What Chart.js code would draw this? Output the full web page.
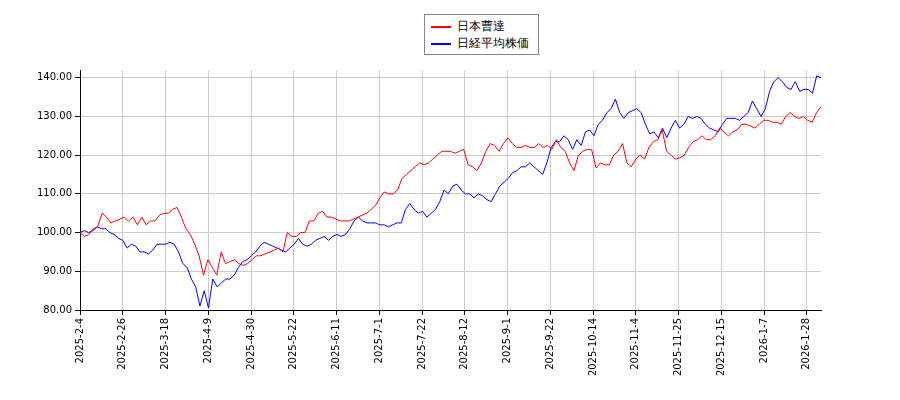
<!DOCTYPE html>
<html><head><meta charset="utf-8">
<script src="https://cdn.jsdelivr.net/npm/chart.js@4"></script>
<style>
body{margin:0;background:#fff;font-family:"DejaVu Sans",sans-serif}
#wrap{position:relative;width:900px;height:400px}
#legend{position:absolute;left:424px;top:14px;width:115px;height:41px;border:1px solid #888;background:#fff;font-size:12px;box-sizing:border-box;padding:3px 6px}
#legend div{height:17px;line-height:17px;white-space:nowrap}
#legend span{display:inline-block;width:20px;height:2px;vertical-align:middle;margin-right:6px}
</style></head><body>
<div id="wrap"><canvas id="c" width="900" height="400"></canvas>
<div id="legend"><div><span style="background:#f00"></span>日本曹達</div><div><span style="background:#00f"></span>日経平均株価</div></div></div>
<script>
const tickLabels=["2025-2-4","2025-2-26","2025-3-18","2025-4-9","2025-4-30","2025-5-22","2025-6-11","2025-7-1","2025-7-22","2025-8-12","2025-9-1","2025-9-22","2025-10-14","2025-11-4","2025-11-25","2025-12-15","2026-1-7","2026-1-28"];
const lastIndex=260;
const nisso=[100,99,99.5,101,101.5,105,104,102.5,103,103.5,104,103,104,102,104,102,103,103,104.5,105,105,106,106.5,104,101,99.5,97,94,89,93,91,89,95,92,92.5,93,92,91.5,92,93,94,94,94.5,95,95.5,96,95,100,99,99,100,100,103,103,105,105.5,104,104,103.5,103,103,103,103.5,104,104.5,105,106,107,109,110.5,110,110,111,114,115,116,117,118,117.5,118,119,120,121,121,121,120.5,121,121.5,117.5,117,116,118,121,123,122.5,121,123,124.5,123,122,122,122.5,122,122,123,122,122.5,121.5,124,122,121,118,116,120,121,121.5,121.4,116.7,118,117.5,117.5,120,121,123,118,117,119,120,119,122,123.5,124,126.5,121,120,119,119.3,120,122,123.5,124,125,124,124,125,127,126,125,126,126.5,128,128,127.5,127,128,129,129,128.5,128.5,128,130,131,130,129.5,130,129,128.5,131,132.5];
const nikkei=[100,100.5,100,100.5,101.5,101,101,100,99.5,98.5,98,96,97,96.5,95,95,94.5,95.5,97,97,97,97.5,97,95,92,91,88,86,81,85,80.5,88,86,87,88,88,89,91,92.5,93,94,95,96.5,97.5,97,96.5,96,95.5,95,96,97,98.5,97,96.5,97,98,98.5,99,98,99,99.5,99,99.5,101,103,104,103,102.5,102.5,102.5,102,102,101.5,102,102.5,102.5,106,107.5,106,105,105.5,104,105,106,108,111,110,112,112.5,111,110,110,109,110,109.5,108.5,108,110,112,113,114,115.5,116,117,117,118,117,116,115,118,122,123.5,123.5,125,124,121.5,124,122.5,126,126.5,125,128,129,131,132,134.5,131,129.5,131,131.5,132,131,128,125.5,126,124.5,127,124.5,127,129,127,128,130,129.5,130,129.5,128,127,126.5,126,128,129.5,129.5,129.5,129,130,131,134,132,130,132,136.5,139,140,139,137.5,137,139,136.5,137,137,136,140.5,140];
const toPts=a=>a.map((v,i)=>({x:i*lastIndex/(a.length-1),y:v}));
new Chart(document.getElementById('c'),{type:'line',
data:{datasets:[
{label:'日本曹達',data:toPts(nisso),borderColor:'#f00',borderWidth:1,pointRadius:0,tension:0},
{label:'日経平均株価',data:toPts(nikkei),borderColor:'#00f',borderWidth:1,pointRadius:0,tension:0}]},
options:{responsive:false,animation:false,events:[],
layout:{padding:{top:70,right:79,left:0,bottom:0}},
plugins:{legend:{display:false},tooltip:{enabled:false}},
scales:{
x:{type:'linear',min:0,max:lastIndex,
afterBuildTicks:s=>{s.ticks=tickLabels.map((_,i)=>({value:i*15}));},
afterFit:s=>{s.height=90;},
ticks:{autoSkip:false,maxRotation:90,minRotation:90,color:'#000',font:{family:'DejaVu Sans',size:10},callback:v=>tickLabels[Math.round(v/15)]},
grid:{color:'#ccc',drawTicks:true,tickLength:5,tickColor:'#000'},border:{color:'#000'}},
y:{min:80,max:142,
afterBuildTicks:s=>{s.ticks=[80,90,100,110,120,130,140].map(v=>({value:v}));},
afterFit:s=>{s.width=80;},
ticks:{color:'#000',font:{family:'DejaVu Sans',size:10},callback:v=>v.toFixed(2)},
grid:{color:'#ccc',tickLength:5,tickColor:'#000'},border:{color:'#000'}}}}});
</script></body></html>
